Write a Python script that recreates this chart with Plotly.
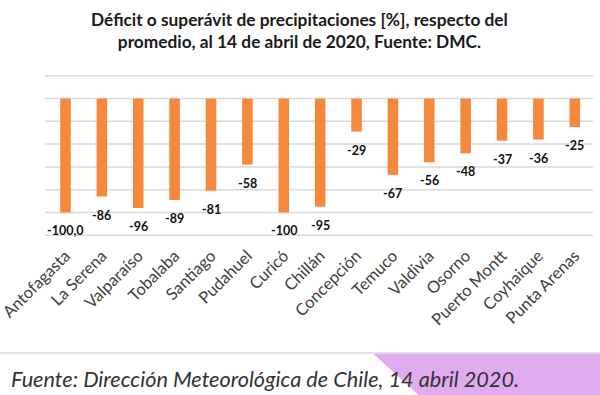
import plotly.graph_objects as go

stations = ["Antofagasta", "La Serena", "Valparaíso", "Tobalaba", "Santiago", "Pudahuel",
            "Curicó", "Chillán", "Concepción", "Temuco", "Valdivia", "Osorno",
            "Puerto Montt", "Coyhaique", "Punta Arenas"]
deficit = [-100.0, -86, -96, -89, -81, -58, -100, -95, -29, -67, -56, -48, -37, -36, -25]
value_labels = ["-100,0", "-86", "-96", "-89", "-81", "-58", "-100", "-95", "-29", "-67",
                "-56", "-48", "-37", "-36", "-25"]
grid_values = [-120, -100, -80, -60, -40, -20, 0, 20]

title_text = ("<b>Déficit o superávit de precipitaciones [%], respecto del<br>"
              "promedio, al 14 de abril de 2020, Fuente: DMC.</b>")
source_text = "<i>Fuente: Dirección Meteorológica de Chile, 14 abril 2020.</i>"

BAR = "#F4883D"
GRID = "#D9D9D9"
W, H = 600, 395
YMIN, YMAX = -121.5, 21.5
PXU = 22.7 / 20.0  # pixels per unit
top_pix = 98.8 - YMAX * PXU
bot_pix = 98.8 - YMIN * PXU
L, R = 45, 7
T = round(top_pix)
B = H - round(bot_pix)
ph = H - T - B


def py(pix):
    return (H - B - pix) / ph


def px(pix):
    return (pix - L) / (W - L - R)


fig = go.Figure()
fig.add_trace(go.Bar(x=stations, y=deficit, marker=dict(color=BAR, line=dict(width=0)),
                     width=0.29, hoverinfo="skip"))

annotations = []
for s, v, t in zip(stations, deficit, value_labels):
    annotations.append(dict(x=s, y=v, xref="x", yref="y", text="<b>%s</b>" % t,
                            showarrow=False, yanchor="top", yshift=-9,
                            font=dict(family="Lato", size=12.5, color="#111111")))

annotations.append(dict(x=px(299), y=py(31), xref="paper", yref="paper", xanchor="center",
                        yanchor="middle", text=title_text, showarrow=False, align="center",
                        font=dict(family="Lato", size=17.3, color="#1a1a1a")))
annotations.append(dict(x=px(9), y=py(379), xref="paper", yref="paper", xanchor="left",
                        yanchor="middle", text=source_text, showarrow=False,
                        font=dict(family="Lato", size=21.7, color="#333333")))

shapes = [dict(type="line", xref="paper", yref="y", x0=0, x1=1, y0=g, y1=g,
               line=dict(color=GRID, width=1.5), layer="below") for g in grid_values]
shapes += [
    dict(type="path", xref="paper", yref="paper",
         path="M %f %f L %f %f L %f %f L %f %f Z" % (px(373), py(353.5), px(605), py(353.5),
                                                     px(605), py(400), px(424), py(400)),
         fillcolor="#E1ABEF", line=dict(width=0), layer="below"),
    dict(type="line", xref="paper", yref="paper", x0=px(0), x1=px(600), y0=py(353), y1=py(353),
         line=dict(color="#DADADA", width=1.5)),
]

fig.update_layout(
    width=W, height=H, margin=dict(l=L, r=R, t=T, b=B, autoexpand=False),
    paper_bgcolor="white", plot_bgcolor="white", showlegend=False,
    annotations=annotations, shapes=shapes,
    xaxis=dict(tickangle=-45, tickfont=dict(family="Lato", size=16.5, color="#404040"),
               showgrid=False, showline=False, ticks="", ticklabelstandoff=5,
               automargin=False, fixedrange=True),
    yaxis=dict(range=[YMIN, YMAX], showgrid=False, showticklabels=False, automargin=False,
               zeroline=False, showline=False, fixedrange=True),
)

fig.write_html("out.html", config={"displayModeBar": False},
               post_script="document.body.style.margin='0';"
                           "document.body.style.overflow='hidden';")
